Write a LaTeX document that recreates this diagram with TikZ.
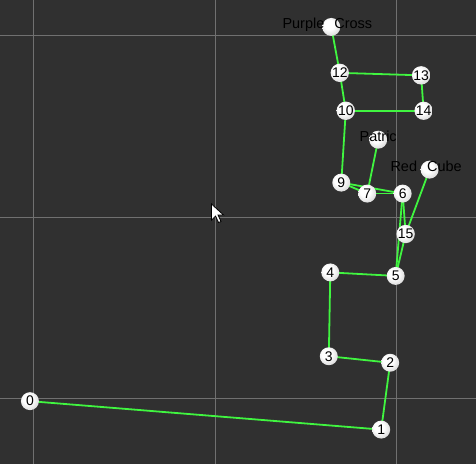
\documentclass[tikz,border=0pt]{standalone}
\usepackage{fontspec}
\setmainfont{Liberation Sans}
\usetikzlibrary{positioning}

\definecolor{bgcol}{RGB}{48,48,48}
\definecolor{gridcol}{RGB}{112,112,112}
\definecolor{linkcol}{RGB}{64,245,64}

\pgfdeclarelayer{bg}
\pgfdeclarelayer{links}
\pgfsetlayers{bg,links,main}

\pgfdeclareradialshading{bulb}{\pgfpoint{-8bp}{8bp}}{color(0bp)=(white);
    color(14bp)=(white); color(34bp)=(black!18); color(60bp)=(black!28)}

\tikzset{
    waypoint/.style={circle, inner sep=0pt, minimum size=18pt, shading=bulb,
        font=\fontsize{14}{14}\selectfont},
    link/.style={draw=linkcol, line width=1.8pt},
    tag/.style={inner sep=0pt, font=\fontsize{14.5}{14.5}\selectfont}
}

\begin{document}
\begin{tikzpicture}[x=1pt, y=-1pt]
    % Background
    \begin{pgfonlayer}{bg}
    \fill[bgcol] (0,0) rectangle (476,464);
    \foreach \g in {33,215,397} {
        \draw[gridcol, line width=1pt] (\g,0) -- (\g,464);
        \draw[gridcol, line width=1pt] (0,\g+2) -- (476,\g+2);
    }
    \end{pgfonlayer}
    \useasboundingbox (0,0) rectangle (476,464);

    % Points
    \foreach \n/\x/\y in {0/29.5/401.5, 1/381.5/430, 2/390.5/363, 3/329/356.5,
        4/330.5/272.5, 5/396/276, 6/403/193.5, 7/367.5/193.5, 9/341.5/182.5,
        10/346/110.5, 12/340/72.5, 13/421.5/75, 14/424/110.5, 15/406/234} {
        \node[waypoint] (n\n) at (\x,\y) {\n};
    }
    \node[waypoint] (purple) at (331.5,26.5) {};
    \node[waypoint] (patric) at (378.5,139.5) {};
    \node[waypoint] (redcube) at (430,169.5) {};

    % Path
    \begin{pgfonlayer}{links}
    \foreach \a/\b in {n0/n1, n1/n2, n2/n3, n3/n4, n4/n5, n5/n15, n5/n6, n6/n15,
        n15/redcube, n6/n7, n6/n9, n7/n9, n7/patric, n9/n10, n10/n12, n12/purple,
        n12/n13, n13/n14, n14/n10} {
        \draw[link] (\a.center) -- (\b.center);
    }
    \end{pgfonlayer}

    % Labels
    \node[tag] (purpletag) at (327.5,24) {Purple\hspace{6pt} Cross};
    \node[tag] (patrictag) at (378.5,136) {Patric};
    \node[tag] (redcubetag) at (426.5,166.5) {Red\hspace{6pt} Cube};

    % Cursor
    \draw[fill=white, line width=0.8pt, line join=miter] (211.5,204) -- ++(0,16) -- ++(4,-4)
        -- ++(3,6.5) -- ++(2.5,-1) -- ++(-3,-6.5) -- ++(5.5,0) -- cycle;
\end{tikzpicture}
\end{document}
